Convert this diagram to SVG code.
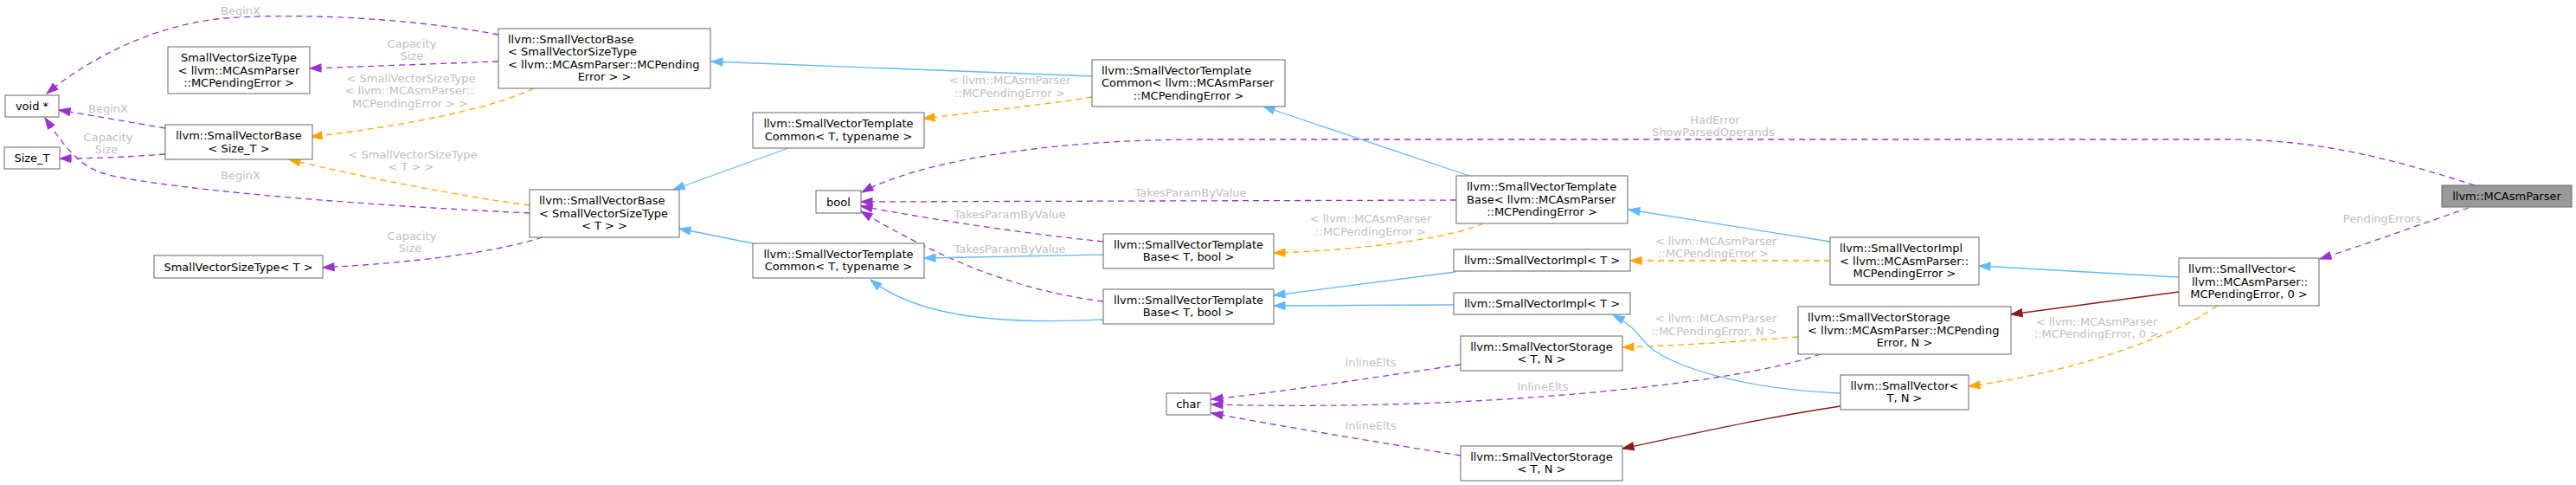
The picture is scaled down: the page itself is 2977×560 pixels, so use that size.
<svg xmlns="http://www.w3.org/2000/svg" width="2977" height="560" viewBox="0 0 2977 560">
<style>
text{font-family:"DejaVu Sans","Liberation Sans",sans-serif;font-size:13px;fill:#000}
.n rect{fill:#fff;stroke:#666;stroke-width:1}
#root rect{fill:#999}
.c{text-anchor:middle}
.e{fill:none;stroke-width:1.3}
.b{stroke:#63b8ff;marker-end:url(#ab)}
.p{stroke:#9a32cd;stroke-dasharray:7,5;marker-end:url(#ap)}
.o{stroke:#ffa500;stroke-dasharray:7,5;marker-end:url(#ao)}
.r{stroke:#8b1a1a;marker-end:url(#ar)}
text.l{fill:#c0c0c0;text-anchor:middle}
</style>
<defs>
<marker id="ab" markerUnits="userSpaceOnUse" markerWidth="14" markerHeight="10" refX="13" refY="5" orient="auto" overflow="visible"><path d="M0,0.5L13,5L0,9.5z" fill="#63b8ff" stroke="#63b8ff"/></marker>
<marker id="ap" markerUnits="userSpaceOnUse" markerWidth="14" markerHeight="10" refX="13" refY="5" orient="auto" overflow="visible"><path d="M0,0.5L13,5L0,9.5z" fill="#9a32cd" stroke="#9a32cd"/></marker>
<marker id="ao" markerUnits="userSpaceOnUse" markerWidth="14" markerHeight="10" refX="13" refY="5" orient="auto" overflow="visible"><path d="M0,0.5L13,5L0,9.5z" fill="#ffa500" stroke="#ffa500"/></marker>
<marker id="ar" markerUnits="userSpaceOnUse" markerWidth="14" markerHeight="10" refX="13" refY="5" orient="auto" overflow="visible"><path d="M0,0.5L13,5L0,9.5z" fill="#8b1a1a" stroke="#8b1a1a"/></marker>
</defs>
<rect width="2977" height="560" fill="#fff"/>
<g id="edges">
<path class="e p" d="M576,40 C470,20 330,14 250,22 C170,32 100,70 54,108"/>
<text class="l" x="278" y="16.5">BeginX</text>
<path class="e p" d="M576,71 L358,79"/>
<text class="l" x="476" y="55">Capacity</text><text class="l" x="476" y="69">Size</text>
<path class="e o" d="M617,102 C570,125 470,145 359,158"/>
<text class="l" x="475" y="94.5">&lt; SmallVectorSizeType</text><text class="l" x="473" y="109">&lt; llvm::MCAsmParser::</text><text class="l" x="474" y="123.5">MCPendingError &gt; &gt;</text>
<path class="e p" d="M191,148 C150,141 110,134 68,127"/>
<text class="l" x="125" y="129.5">BeginX</text>
<path class="e p" d="M191,178 C150,181 110,183 69,183"/>
<text class="l" x="125" y="163">Capacity</text><text class="l" x="123" y="177">Size</text>
<path class="e o" d="M612,237 C540,228 420,205 334,184"/>
<text class="l" x="477" y="182.5">&lt; SmallVectorSizeType</text><text class="l" x="475" y="196.5">&lt; T &gt; &gt;</text>
<path class="e p" d="M612,246 C480,240 250,225 140,205 C100,198 85,185 52,136"/>
<text class="l" x="278" y="206.5">BeginX</text>
<path class="e p" d="M627,274 C570,292 480,303 373,309"/>
<text class="l" x="476" y="276.5">Capacity</text><text class="l" x="474" y="290.5">Size</text>
<path class="e b" d="M1262,88 L822,71"/>
<path class="e o" d="M1262,112 C1200,122 1120,130 1067,137"/>
<text class="l" x="1167" y="97">&lt; llvm::MCAsmParser</text><text class="l" x="1167" y="112">::MCPendingError &gt;</text>
<path class="e b" d="M911,171 L778,219"/>
<path class="e b" d="M870,281 L785,264"/>
<path class="e p" d="M2860,214 C2760,182 2680,162 2580,161 L1380,161 C1200,162 1060,188 996,222"/>
<text class="l" x="1982" y="143">HadError</text><text class="l" x="1980" y="157">ShowParsedOperands</text>
<path class="e p" d="M1683,231 L995,233"/>
<text class="l" x="1376" y="227">TakesParamByValue</text>
<path class="e p" d="M1275,279 C1170,268 1070,252 995,238"/>
<text class="l" x="1167" y="251.5">TakesParamByValue</text>
<path class="e p" d="M1275,348 C1170,335 1080,295 995,244"/>
<text class="l" x="1167" y="291.5">TakesParamByValue</text>
<path class="e b" d="M1275,294 L1068,298"/>
<path class="e b" d="M1275,369 C1150,375 1060,365 1006,323"/>
<path class="e b" d="M1698,203 L1460,123"/>
<path class="e o" d="M1714,258 C1680,275 1560,290 1472,292"/>
<text class="l" x="1584" y="257">&lt; llvm::MCAsmParser</text><text class="l" x="1584" y="272">::MCPendingError &gt;</text>
<path class="e b" d="M1682,314 L1472,341"/>
<path class="e b" d="M1680,352 L1472,353"/>
<path class="e o" d="M2115,301 L1884,301"/>
<text class="l" x="1983" y="283">&lt; llvm::MCAsmParser</text><text class="l" x="1980" y="297">::MCPendingError &gt;</text>
<path class="e b" d="M2115,279 L1882,242"/>
<path class="e b" d="M2518,320 L2287,307"/>
<path class="e r" d="M2518,337 L2324,363"/>
<path class="e o" d="M2078,389 C2000,395 1940,399 1875,401"/>
<text class="l" x="1983" y="372">&lt; llvm::MCAsmParser</text><text class="l" x="1981" y="387">::MCPendingError, N &gt;</text>
<path class="e o" d="M2562,353 C2520,385 2400,430 2275,446"/>
<text class="l" x="2423" y="375.5">&lt; llvm::MCAsmParser</text><text class="l" x="2423" y="389.5">::MCPendingError, 0 &gt;</text>
<path class="e b" d="M2127,454 C2030,450 1950,430 1912,405 C1895,393 1893,378 1864,364"/>
<path class="e r" d="M2127,469 C2040,482 1960,500 1875,518"/>
<path class="e p" d="M1688,421 C1600,434 1480,453 1400,461"/>
<text class="l" x="1584" y="423">InlineElts</text>
<path class="e p" d="M2104,409 C2000,445 1700,475 1400,467"/>
<text class="l" x="1783" y="451">InlineElts</text>
<path class="e p" d="M1688,526 C1600,512 1480,492 1400,477"/>
<text class="l" x="1584" y="496">InlineElts</text>
<path class="e p" d="M2853,240 C2800,258 2740,280 2681,299"/>
<text class="l" x="2753" y="257">PendingErrors</text>
</g>
<g id="n_void" class="n"><rect x="6" y="110" width="62" height="25"/><text class="c" x="37" y="127">void *</text></g>
<g id="n_size_t" class="n"><rect x="5" y="170" width="64" height="25"/><text class="c" x="37" y="187">Size_T</text></g>
<g id="n_svst_mc" class="n"><rect x="194" y="54" width="164" height="54"/><text class="c" x="276" y="71">SmallVectorSizeType</text><text class="c" x="276" y="85.5">&lt; llvm::MCAsmParser</text><text class="c" x="276" y="100">::MCPendingError &gt;</text></g>
<g id="n_svbase_sizet" class="n"><rect x="191" y="144" width="170" height="40"/><text class="c" x="276" y="161">llvm::SmallVectorBase</text><text class="c" x="276" y="176">&lt; Size_T &gt;</text></g>
<g id="n_svst_t" class="n"><rect x="178" y="295" width="195" height="26"/><text class="c" x="275.5" y="312.5">SmallVectorSizeType&lt; T &gt;</text></g>
<g id="n_svbase_mc" class="n"><rect x="576" y="33" width="245" height="69"/><text x="587" y="49.5">llvm::SmallVectorBase</text><text x="587" y="64">&lt; SmallVectorSizeType</text><text x="587" y="78.5">&lt; llvm::MCAsmParser::MCPending</text><text class="c" x="698.5" y="93">Error &gt; &gt;</text></g>
<g id="n_svbase_t" class="n"><rect x="612" y="219" width="173" height="55"/><text x="623" y="235.5">llvm::SmallVectorBase</text><text x="623" y="250.5">&lt; SmallVectorSizeType</text><text class="c" x="698.5" y="265">&lt; T &gt; &gt;</text></g>
<g id="n_svtc_t1" class="n"><rect x="870" y="130" width="198" height="41"/><text class="c" x="969" y="147">llvm::SmallVectorTemplate</text><text class="c" x="969" y="162">Common&lt; T, typename &gt;</text></g>
<g id="n_svtc_t2" class="n"><rect x="870" y="281" width="198" height="40"/><text class="c" x="969" y="297.5">llvm::SmallVectorTemplate</text><text class="c" x="969" y="312">Common&lt; T, typename &gt;</text></g>
<g id="n_bool" class="n"><rect x="943" y="220" width="52" height="26"/><text class="c" x="969" y="237.5">bool</text></g>
<g id="n_char" class="n"><rect x="1348" y="454" width="51" height="25"/><text class="c" x="1373.5" y="471">char</text></g>
<g id="n_svtc_mc" class="n"><rect x="1262" y="69" width="223" height="54"/><text x="1273" y="85.5">llvm::SmallVectorTemplate</text><text x="1273" y="100">Common&lt; llvm::MCAsmParser</text><text class="c" x="1373.5" y="114.5">::MCPendingError &gt;</text></g>
<g id="n_svtb_mc" class="n"><rect x="1683" y="203" width="198" height="55"/><text x="1695" y="219.5">llvm::SmallVectorTemplate</text><text x="1695" y="234.5">Base&lt; llvm::MCAsmParser</text><text class="c" x="1782" y="249">::MCPendingError &gt;</text></g>
<g id="n_svtb_t1" class="n"><rect x="1275" y="270" width="197" height="40"/><text class="c" x="1373.5" y="286.5">llvm::SmallVectorTemplate</text><text class="c" x="1373.5" y="301">Base&lt; T, bool &gt;</text></g>
<g id="n_svtb_t2" class="n"><rect x="1275" y="334" width="197" height="40"/><text class="c" x="1373.5" y="350.5">llvm::SmallVectorTemplate</text><text class="c" x="1373.5" y="365">Base&lt; T, bool &gt;</text></g>
<g id="n_svimpl_t1" class="n"><rect x="1680" y="288" width="204" height="25"/><text class="c" x="1782" y="305">llvm::SmallVectorImpl&lt; T &gt;</text></g>
<g id="n_svimpl_t2" class="n"><rect x="1680" y="338" width="204" height="25"/><text class="c" x="1782" y="355">llvm::SmallVectorImpl&lt; T &gt;</text></g>
<g id="n_svstor_t1" class="n"><rect x="1688" y="388" width="187" height="40"/><text class="c" x="1781.5" y="404.5">llvm::SmallVectorStorage</text><text class="c" x="1781.5" y="419">&lt; T, N &gt;</text></g>
<g id="n_svstor_t2" class="n"><rect x="1688" y="515" width="187" height="40"/><text class="c" x="1781.5" y="531.5">llvm::SmallVectorStorage</text><text class="c" x="1781.5" y="546">&lt; T, N &gt;</text></g>
<g id="n_svimpl_mc" class="n"><rect x="2115" y="274" width="172" height="55"/><text x="2126" y="290.5">llvm::SmallVectorImpl</text><text x="2126" y="305.5">&lt; llvm::MCAsmParser::</text><text class="c" x="2201" y="320">MCPendingError &gt;</text></g>
<g id="n_svstor_mc" class="n"><rect x="2078" y="354" width="246" height="55"/><text x="2089" y="370.5">llvm::SmallVectorStorage</text><text x="2089" y="385.5">&lt; llvm::MCAsmParser::MCPending</text><text class="c" x="2201" y="400">Error, N &gt;</text></g>
<g id="n_sv_t" class="n"><rect x="2127" y="433" width="148" height="40"/><text class="c" x="2201" y="449.5">llvm::SmallVector&lt;</text><text class="c" x="2201" y="464">T, N &gt;</text></g>
<g id="n_sv_mc" class="n"><rect x="2518" y="298" width="162" height="55"/><text x="2529" y="314.5">llvm::SmallVector&lt;</text><text x="2533" y="329.5">llvm::MCAsmParser::</text><text class="c" x="2599" y="344">MCPendingError, 0 &gt;</text></g>
<g id="root" class="n"><rect x="2822" y="214" width="150" height="25"/><text class="c" x="2897" y="231">llvm::MCAsmParser</text></g>
</svg>
